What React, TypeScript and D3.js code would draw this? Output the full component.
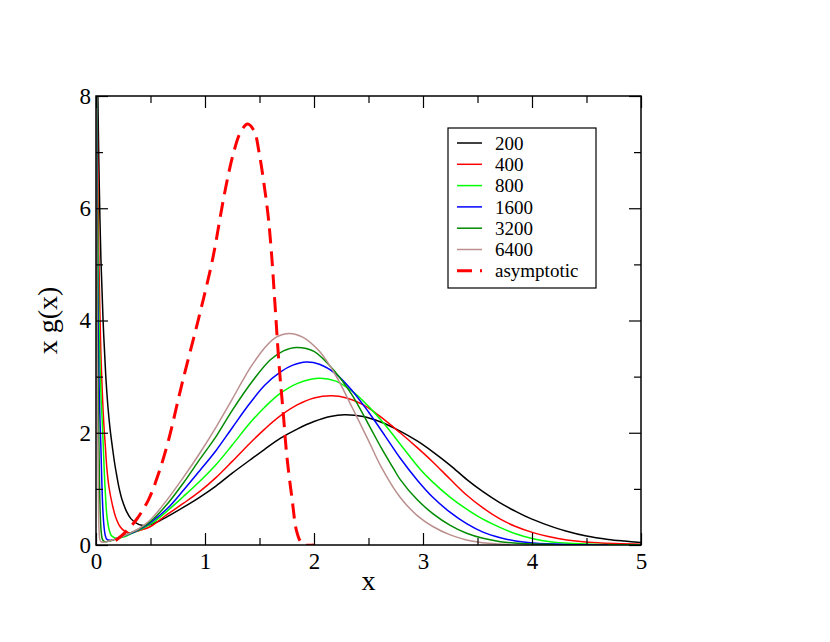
import { useEffect, useRef } from 'react';
import * as d3 from 'd3';

// n = 200
const x200 = [0.01, 0.02, 0.03, 0.045, 0.065, 0.09, 0.11, 0.13, 0.15, 0.17, 0.19, 0.21, 0.24, 0.28, 0.32, 0.37, 0.42, 0.47, 0.55, 0.65, 0.8, 0.95, 1.1, 1.25, 1.41, 1.55, 1.69, 1.85, 2.0, 2.15, 2.28, 2.45, 2.6, 2.79, 2.95, 3.09, 3.25, 3.4, 3.55, 3.7, 3.85, 4.0, 4.15, 4.31, 4.5, 4.7, 4.85, 5.0];
const y200 = [9.0, 7.6, 6.4, 5.1, 4.0, 3.0, 2.45, 2.05, 1.75, 1.47, 1.24, 1.03, 0.8, 0.6, 0.47, 0.39, 0.35, 0.35, 0.4, 0.5, 0.67, 0.85, 1.05, 1.28, 1.51, 1.71, 1.9, 2.07, 2.2, 2.29, 2.32, 2.29, 2.2, 2.03, 1.85, 1.66, 1.42, 1.17, 0.95, 0.76, 0.6, 0.46, 0.35, 0.25, 0.16, 0.1, 0.07, 0.045];

// n = 400
const x400 = [0.006, 0.012, 0.018, 0.025, 0.035, 0.045, 0.055, 0.065, 0.075, 0.085, 0.1, 0.12, 0.15, 0.18, 0.22, 0.26, 0.3, 0.35, 0.42, 0.5, 0.65, 0.8, 0.95, 1.1, 1.25, 1.41, 1.55, 1.69, 1.85, 2.0, 2.16, 2.3, 2.45, 2.6, 2.79, 2.95, 3.09, 3.25, 3.4, 3.55, 3.71, 3.85, 4.01, 4.15, 4.32, 4.6, 5.0];
const y400 = [9.0, 7.6, 6.4, 5.3, 4.2, 3.4, 2.85, 2.4, 2.05, 1.78, 1.36, 1.02, 0.72, 0.5, 0.33, 0.25, 0.22, 0.23, 0.27, 0.33, 0.54, 0.74, 0.95, 1.2, 1.49, 1.81, 2.07, 2.3, 2.5, 2.62, 2.66, 2.62, 2.5, 2.3, 2.0, 1.73, 1.48, 1.17, 0.89, 0.66, 0.46, 0.33, 0.22, 0.15, 0.09, 0.04, 0.015];

// n = 800
const x800 = [0.004, 0.008, 0.012, 0.017, 0.023, 0.03, 0.038, 0.047, 0.056, 0.066, 0.076, 0.086, 0.1, 0.12, 0.14, 0.17, 0.2, 0.25, 0.32, 0.4, 0.5, 0.65, 0.8, 0.95, 1.1, 1.25, 1.41, 1.55, 1.69, 1.85, 2.04, 2.2, 2.35, 2.5, 2.64, 2.79, 2.97, 3.09, 3.25, 3.4, 3.55, 3.71, 3.85, 4.01, 4.2, 4.5, 5.0];
const y800 = [9.0, 7.6, 6.5, 5.4, 4.5, 3.7, 3.1, 2.6, 2.25, 1.8, 1.3, 0.92, 0.52, 0.28, 0.17, 0.13, 0.12, 0.14, 0.2, 0.27, 0.37, 0.6, 0.86, 1.13, 1.43, 1.78, 2.17, 2.46, 2.7, 2.88, 2.97, 2.92, 2.74, 2.47, 2.17, 1.8, 1.36, 1.12, 0.85, 0.64, 0.46, 0.31, 0.2, 0.11, 0.05, 0.02, 0.003];

// n = 1600
const x1600 = [0.003, 0.006, 0.009, 0.013, 0.018, 0.024, 0.03, 0.037, 0.044, 0.051, 0.058, 0.066, 0.075, 0.085, 0.1, 0.13, 0.17, 0.22, 0.3, 0.4, 0.5, 0.65, 0.8, 0.95, 1.1, 1.25, 1.41, 1.55, 1.69, 1.8, 1.93, 2.05, 2.2, 2.35, 2.5, 2.65, 2.79, 2.95, 3.09, 3.25, 3.4, 3.55, 3.71, 3.85, 4.01, 4.3, 4.7];
const y1600 = [9.0, 7.6, 6.4, 5.2, 4.2, 3.3, 2.7, 2.2, 1.8, 1.3, 0.85, 0.52, 0.3, 0.17, 0.1, 0.085, 0.1, 0.14, 0.19, 0.28, 0.4, 0.64, 0.97, 1.32, 1.68, 2.09, 2.52, 2.85, 3.08, 3.2, 3.26, 3.22, 3.05, 2.75, 2.37, 1.95, 1.55, 1.15, 0.85, 0.58, 0.38, 0.23, 0.13, 0.07, 0.035, 0.01, 0.002];

// n = 3200
const x3200 = [0.002, 0.004, 0.007, 0.01, 0.014, 0.019, 0.024, 0.029, 0.034, 0.04, 0.047, 0.055, 0.065, 0.08, 0.11, 0.15, 0.2, 0.3, 0.4, 0.5, 0.65, 0.8, 0.95, 1.107, 1.25, 1.443, 1.6, 1.72, 1.84, 2.0, 2.2, 2.35, 2.5, 2.62, 2.73, 2.79, 2.95, 3.09, 3.25, 3.4, 3.55, 3.71, 3.9, 4.2];
const y3200 = [9.0, 7.5, 6.0, 4.8, 3.7, 2.9, 2.2, 1.5, 0.9, 0.5, 0.25, 0.13, 0.08, 0.06, 0.065, 0.085, 0.12, 0.2, 0.29, 0.42, 0.72, 1.1, 1.52, 1.95, 2.4, 2.94, 3.3, 3.46, 3.52, 3.45, 3.07, 2.67, 2.15, 1.72, 1.36, 1.17, 0.8, 0.56, 0.35, 0.21, 0.12, 0.06, 0.025, 0.008];

// n = 6400
const x6400 = [0.001, 0.003, 0.005, 0.007, 0.01, 0.013, 0.016, 0.02, 0.024, 0.029, 0.035, 0.045, 0.06, 0.1, 0.2, 0.3, 0.4, 0.5, 0.65, 0.8, 0.95, 1.107, 1.25, 1.337, 1.413, 1.55, 1.65, 1.774, 1.9, 2.05, 2.2, 2.35, 2.5, 2.62, 2.79, 2.95, 3.09, 3.25, 3.4, 3.6, 3.8];
const y6400 = [9.0, 7.2, 5.9, 4.8, 3.6, 2.7, 2.0, 1.2, 0.5, 0.22, 0.1, 0.06, 0.05, 0.06, 0.12, 0.2, 0.3, 0.45, 0.8, 1.2, 1.63, 2.12, 2.6, 2.9, 3.15, 3.52, 3.7, 3.77, 3.7, 3.45, 3.02, 2.45, 1.86, 1.38, 0.85, 0.52, 0.33, 0.18, 0.09, 0.03, 0.01];

// asymptotic
const xAsym = [0.18, 0.27, 0.37, 0.48, 0.57, 0.663, 0.786, 0.924, 1.0, 1.06, 1.1, 1.156, 1.21, 1.257, 1.32, 1.39, 1.45, 1.5, 1.54, 1.58, 1.61, 1.64, 1.68, 1.72, 1.75, 1.8, 1.84, 1.88, 1.92, 2.0];
const yAsym = [0.08, 0.23, 0.45, 0.8, 1.25, 1.85, 2.85, 3.9, 4.5, 5.0, 5.4, 6.02, 6.56, 6.95, 7.33, 7.5, 7.38, 6.95, 6.45, 5.85, 5.2, 4.35, 3.2, 2.3, 1.6, 0.8, 0.25, 0.05, 0.0, 0.0];

const xMajor = [0, 1, 2, 3, 4, 5];
const xMinor = [0.5, 1.5, 2.5, 3.5, 4.5];
const yMajor = [0, 2, 4, 6, 8];
const yMinor = [1, 3, 5, 7];

const seriesList = [
    { label: '200', xs: x200, ys: y200, color: '#000000', dashed: false },
    { label: '400', xs: x400, ys: y400, color: '#ff0000', dashed: false },
    { label: '800', xs: x800, ys: y800, color: '#00ff00', dashed: false },
    { label: '1600', xs: x1600, ys: y1600, color: '#0000ff', dashed: false },
    { label: '3200', xs: x3200, ys: y3200, color: '#008b00', dashed: false },
    { label: '6400', xs: x6400, ys: y6400, color: '#bc8f8f', dashed: false },
    { label: 'asymptotic', xs: xAsym, ys: yAsym, color: '#ff0000', dashed: true },
];

const FONT = '"Liberation Serif", "Times New Roman", serif';

export default function App() {
    const svgRef = useRef<SVGSVGElement>(null);

    useEffect(() => {
        if (!svgRef.current) return;
        const width = 830;
        const height = 642;

        d3.select(svgRef.current).selectAll('*').remove();

        const margin = { top: 96, right: 189, bottom: 97, left: 96 };
        const innerWidth = width - margin.left - margin.right;
        const innerHeight = height - margin.top - margin.bottom;

        const svg = d3.select(svgRef.current).attr('width', width).attr('height', height);

        svg.append('defs')
            .append('clipPath')
            .attr('id', 'plot-clip')
            .append('rect')
            .attr('width', innerWidth)
            .attr('height', innerHeight);

        const g = svg.append('g').attr('transform', `translate(${margin.left},${margin.top})`);

        const xScale = d3.scaleLinear().domain([0, 5]).range([0, innerWidth]);
        const yScale = d3.scaleLinear().domain([0, 8]).range([innerHeight, 0]);

        // curves
        const line = d3
            .line<[number, number]>()
            .x((d) => xScale(d[0]))
            .y((d) => yScale(d[1]))
            .curve(d3.curveCatmullRom.alpha(0.5));

        const plot = g.append('g').attr('clip-path', 'url(#plot-clip)');
        seriesList.forEach((s) => {
            const pts = s.xs.map((x, i) => [x, s.ys[i]] as [number, number]);
            plot.append('path')
                .datum(pts)
                .attr('fill', 'none')
                .attr('stroke', s.color)
                .attr('stroke-width', s.dashed ? 3 : 1.5)
                .attr('stroke-dasharray', s.dashed ? '15,8' : null)
                .attr('d', line);
        });

        // ticks, all pointing inward
        const styleAxis = (sel: any) => {
            sel.select('.domain').remove();
            sel.selectAll('line').attr('stroke', '#000').attr('stroke-width', 1.2);
            sel.selectAll('text').attr('fill', '#000').style('font-family', FONT).style('font-size', '23px');
        };

        g.append('g')
            .attr('transform', `translate(0,${innerHeight})`)
            .call(d3.axisBottom(xScale).tickValues(xMajor).tickSizeInner(-12).tickSizeOuter(0).tickPadding(8).tickFormat(d3.format('d')))
            .call(styleAxis);
        g.append('g')
            .attr('transform', `translate(0,${innerHeight})`)
            .call(d3.axisBottom(xScale).tickValues(xMinor).tickSize(-7).tickFormat(() => ''))
            .call(styleAxis);
        g.append('g')
            .call(d3.axisTop(xScale).tickValues(xMajor).tickSizeInner(-12).tickSizeOuter(0).tickFormat(() => ''))
            .call(styleAxis);
        g.append('g')
            .call(d3.axisTop(xScale).tickValues(xMinor).tickSize(-7).tickFormat(() => ''))
            .call(styleAxis);

        g.append('g')
            .call(d3.axisLeft(yScale).tickValues(yMajor).tickSizeInner(-12).tickSizeOuter(0).tickPadding(5).tickFormat(d3.format('d')))
            .call(styleAxis);
        g.append('g')
            .call(d3.axisLeft(yScale).tickValues(yMinor).tickSize(-7).tickFormat(() => ''))
            .call(styleAxis);
        g.append('g')
            .attr('transform', `translate(${innerWidth},0)`)
            .call(d3.axisRight(yScale).tickValues(yMajor).tickSizeInner(-12).tickSizeOuter(0).tickFormat(() => ''))
            .call(styleAxis);
        g.append('g')
            .attr('transform', `translate(${innerWidth},0)`)
            .call(d3.axisRight(yScale).tickValues(yMinor).tickSize(-7).tickFormat(() => ''))
            .call(styleAxis);

        // frame
        g.append('rect')
            .attr('width', innerWidth)
            .attr('height', innerHeight)
            .attr('fill', 'none')
            .attr('stroke', '#000')
            .attr('stroke-width', 1.5);

        // axis titles
        g.append('text')
            .attr('x', innerWidth / 2)
            .attr('y', innerHeight + 45)
            .attr('text-anchor', 'middle')
            .style('font-family', FONT)
            .style('font-size', '28px')
            .text('x');

        g.append('text')
            .attr('transform', `translate(${57 - margin.left},${innerHeight / 2}) rotate(-90)`)
            .attr('text-anchor', 'middle')
            .style('font-family', FONT)
            .style('font-size', '28px')
            .text('x g(x)');

        // legend
        const legend = svg.append('g').attr('transform', 'translate(448,128)');
        legend.append('rect')
            .attr('width', 148)
            .attr('height', 160)
            .attr('fill', '#fff')
            .attr('stroke', '#000')
            .attr('stroke-width', 1.2);

        seriesList.forEach((s, i) => {
            const row = legend.append('g').attr('transform', `translate(0,${15 + i * 21.3})`);
            row.append('line')
                .attr('x1', 9)
                .attr('x2', 34)
                .attr('stroke', s.color)
                .attr('stroke-width', s.dashed ? 3 : 1.5)
                .attr('stroke-dasharray', s.dashed ? '15,8' : null);
            row.append('text')
                .attr('x', 47)
                .attr('dy', '0.35em')
                .style('font-family', FONT)
                .style('font-size', '19px')
                .text(s.label);
        });
    }, []);

    return (
        <div>
            <svg ref={svgRef} style={{ position: 'absolute', left: 0, top: 0, background: '#fff' }} />
        </div>
    );
}
